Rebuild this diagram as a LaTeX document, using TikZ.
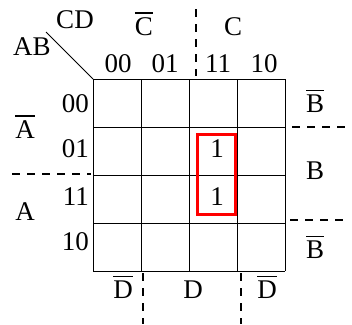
\documentclass[tikz,border=0pt]{standalone}
\usepackage{fontspec}
\setmainfont{Liberation Serif}
\newcommand\ovl[1]{\vbox{\hrule height 1.8pt\kern 3pt\hbox{#1}}}
\begin{document}
\begin{tikzpicture}[x=1pt,y=-1pt,
  lbl/.style={font=\fontsize{27}{27}\selectfont, inner sep=0pt, anchor=base},
  rlbl/.style={lbl, anchor=base east},
  grid line/.style={line width=1pt},
  dashline/.style={line width=2pt, dash pattern=on 8pt off 7pt},
  group/.style={draw=red, line width=3pt, inner sep=0pt}]
\useasboundingbox (0,0) rectangle (352,324);
% grid
\foreach \i in {0,...,4} {
  \draw[grid line] (93+48*\i,79) -- (93+48*\i,271);
  \draw[grid line] (93,79+48*\i) -- (285,79+48*\i);
}
% corner
\coordinate (dg1) at (46,32);
\coordinate (dg2) at (93,79);
\draw[line width=1pt] (dg1) -- (dg2);
\node[lbl] (cd) at (75,28) {CD};
\node[lbl] (ab) at (32,55) {AB};
% top labels
\node[lbl] (cbar) at (144,35) {\ovl{C}};
\node[lbl] (c) at (233,35) {C};
\node[lbl] (c00) at (118,72) {00};
\node[lbl] (c01) at (165,72) {01};
\node[lbl] (c11) at (218,72) {11};
\node[lbl] (c10) at (264,72) {10};
% row labels
\node[rlbl] (r00) at (89,112) {00};
\node[rlbl] (r01) at (89,157) {01};
\node[rlbl] (r11) at (89,205) {11};
\node[rlbl] (r10) at (89,250) {10};
\node[lbl] (abar) at (25,138) {\ovl{A}};
\node[lbl] (a) at (25,220) {A};
% right labels
\node[lbl] (bbar1) at (315,112) {\ovl{B}};
\node[lbl] (b) at (315,179) {B};
\node[lbl] (bbar2) at (315,258) {\ovl{B}};
% bottom labels
\node[lbl] (dbar1) at (123,298) {\ovl{D}};
\node[lbl] (d) at (193,298) {D};
\node[lbl] (dbar2) at (267,298) {\ovl{D}};
% ones
\node[lbl] (one1) at (217,157) {1};
\node[lbl] (one2) at (217,205) {1};
% group
\coordinate (g1) at (197,134);
\coordinate (g2) at (235,214);
\draw[draw=red, line width=3pt] (g1) rectangle (g2);
% dashed lines
\coordinate (t1) at (196,9);
\coordinate (t2) at (196,76);
\draw[dashline] (t1) -- (t2);
\coordinate (l1) at (12,174);
\coordinate (l2) at (91,174);
\draw[dashline] (l1) -- (l2);
\coordinate (ra1) at (292,127);
\coordinate (ra2) at (345,127);
\draw[dashline] (ra1) -- (ra2);
\coordinate (rb1) at (290,220);
\coordinate (rb2) at (343,220);
\draw[dashline] (rb1) -- (rb2);
\coordinate (b1) at (143,273);
\coordinate (b2) at (143,324);
\draw[dashline] (b1) -- (b2);
\coordinate (bb1) at (241,273);
\coordinate (bb2) at (241,324);
\draw[dashline] (bb1) -- (bb2);
\end{tikzpicture}
\end{document}
